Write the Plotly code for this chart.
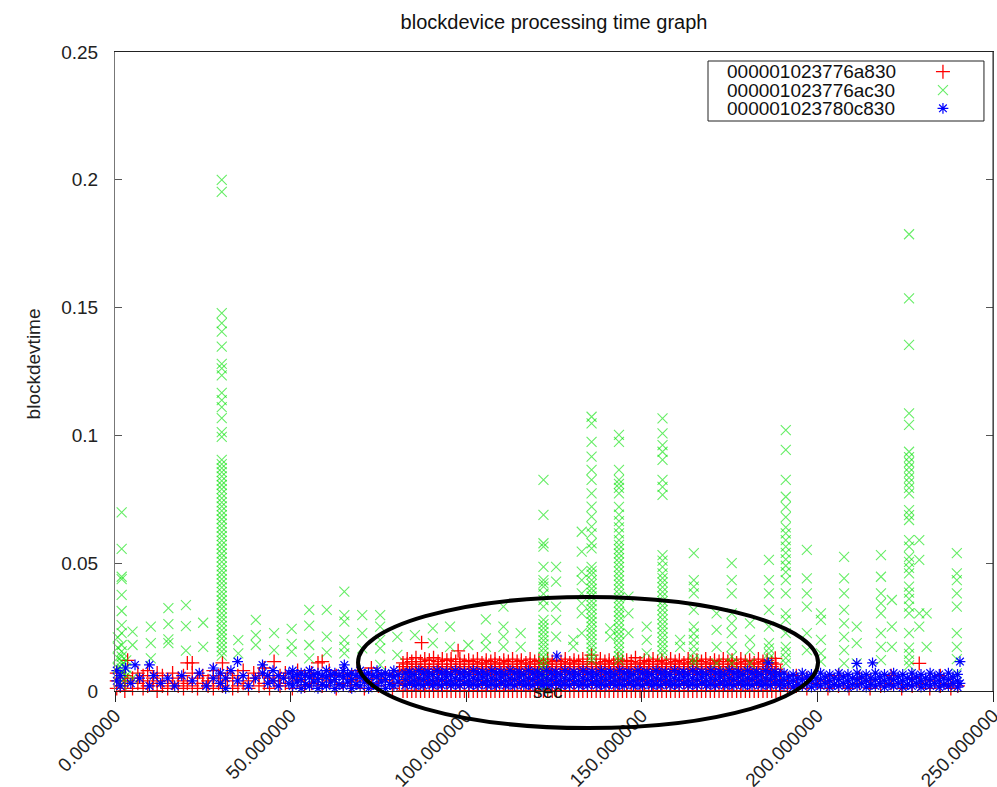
import plotly.graph_objects as go

# ---------------------------------------------------------------
# blockdevice processing time samples, one list per device.
# Each entry: (sec, [blockdevtime values logged at that second])
# ---------------------------------------------------------------
SERIES_NAMES = ["000001023776a830", "000001023776ac30", "000001023780c830"]

X_TICKS = [0, 50, 100, 150, 200, 250]
Y_TICKS = [0, 0.05, 0.1, 0.15, 0.2, 0.25]

dev_a830 = [
    (0.5, [0.001, 0.004, 0.007]), (1.5, [0.002, 0.005]), (2.8, [0.0, 0.003, 0.006]),
    (3.6, [0.012, 0.004]), (5.0, [0.001, 0.005]), (6.5, [0.003, 0.007]),
    (8.0, [0.001, 0.004, 0.006]), (9.3, [0.002, 0.008]), (10.8, [0.003, 0.005]),
    (12.0, [0.0, 0.004, 0.007]), (13.5, [0.002, 0.006]), (15.0, [0.001, 0.004]),
    (16.4, [0.003, 0.007]), (18.0, [0.002, 0.005]), (19.5, [0.001, 0.004, 0.006]),
    (20.6, [0.011, 0.003]), (22.0, [0.002, 0.007, 0.011]), (23.5, [0.001, 0.005]),
    (25.0, [0.003, 0.006]), (26.5, [0.002, 0.004]), (28.0, [0.001, 0.005, 0.008]),
    (29.5, [0.003, 0.006]), (30.6, [0.011, 0.002]), (32.0, [0.004, 0.007]),
    (33.5, [0.001, 0.005]), (35.0, [0.002, 0.006]), (36.5, [0.003, 0.008]),
    (38.0, [0.001, 0.004]), (39.5, [0.005, 0.007]), (41.0, [0.002, 0.006]),
    (42.5, [0.003, 0.009]), (44.0, [0.001, 0.005]), (45.3, [0.0115, 0.004]),
    (47.0, [0.002, 0.006]), (48.5, [0.003, 0.007]), (50.5, [0.001, 0.005]),
    (52.0, [0.004, 0.008]), (54.0, [0.002, 0.006]), (56.0, [0.003, 0.007]),
    (57.8, [0.011, 0.005]), (59.0, [0.0115, 0.002]), (61.0, [0.004, 0.008]),
    (63.0, [0.001, 0.006]), (65.0, [0.003, 0.007]), (67.0, [0.002, 0.005]),
    (69.0, [0.004, 0.008]), (71.0, [0.001, 0.006]), (73.0, [0.003, 0.009]),
    (75.0, [0.002, 0.005]), (77.0, [0.004, 0.007]), (79.0, [0.001, 0.006]),
    (81.0, [0.003, 0.008]),
    (82.0, [0.0, 0.004, 0.0075, 0.0095, 0.011]), (83.2, [0.0, 0.0025, 0.0065, 0.0085, 0.0105, 0.0125]),
    (84.5, [0.0, 0.004, 0.0075, 0.0095, 0.0115]), (85.7, [0.0, 0.0025, 0.0065, 0.0085, 0.0105, 0.013]),
    (87.0, [0.0, 0.004, 0.0075, 0.0095, 0.0115]), (87.3, [0.0189]),
    (88.2, [0.0, 0.0025, 0.0065, 0.0085, 0.0105, 0.0125]), (89.5, [0.0, 0.004, 0.0075, 0.0095, 0.012]),
    (90.7, [0.0, 0.0025, 0.0065, 0.0085, 0.0105, 0.013]), (92.0, [0.0, 0.004, 0.0075, 0.0095, 0.0115]),
    (93.2, [0.0, 0.0025, 0.0065, 0.0085, 0.0105, 0.0125]), (94.5, [0.0, 0.004, 0.0075, 0.0095, 0.012]),
    (95.7, [0.0, 0.0025, 0.0065, 0.0085, 0.0105, 0.0125]), (97.0, [0.0, 0.004, 0.0075, 0.0095, 0.0115]),
    (97.7, [0.0157]),
    (98.2, [0.0, 0.0025, 0.0065, 0.0085, 0.0105, 0.0125]), (99.5, [0.0, 0.004, 0.0075, 0.0095, 0.0115]),
    (100.7, [0.0, 0.0025, 0.0065, 0.0085, 0.0105, 0.012]), (102.0, [0.0, 0.004, 0.0075, 0.0095, 0.0115]),
    (103.2, [0.0, 0.0025, 0.0065, 0.0085, 0.0105, 0.0125]), (104.5, [0.0, 0.004, 0.0075, 0.0095, 0.011]),
    (105.7, [0.0, 0.0025, 0.0065, 0.0085, 0.0105, 0.012]), (107.0, [0.0, 0.004, 0.0075, 0.0095, 0.0115]),
    (108.2, [0.0, 0.0025, 0.0065, 0.0085, 0.0105, 0.0125]), (109.5, [0.0, 0.004, 0.0075, 0.0095, 0.011]),
    (110.7, [0.0, 0.0025, 0.0065, 0.0085, 0.0105, 0.012]), (112.0, [0.0, 0.004, 0.0075, 0.0095, 0.0115]),
    (113.2, [0.0, 0.0025, 0.0065, 0.0085, 0.0105, 0.0125]), (114.5, [0.0, 0.004, 0.0075, 0.0095, 0.0115]),
    (115.7, [0.0, 0.0025, 0.0065, 0.0085, 0.0105, 0.012]), (117.0, [0.0, 0.004, 0.0075, 0.0095, 0.011]),
    (118.2, [0.0, 0.0025, 0.0065, 0.0085, 0.0105, 0.0125]), (119.5, [0.0, 0.004, 0.0075, 0.0095, 0.0115]),
    (120.7, [0.0, 0.0025, 0.0065, 0.0085, 0.0105, 0.012]), (122.0, [0.0, 0.004, 0.0075, 0.0095, 0.011]),
    (123.2, [0.0, 0.0025, 0.0065, 0.0085, 0.0105, 0.0125]), (124.5, [0.0, 0.004, 0.0075, 0.0095, 0.0115]),
    (125.7, [0.0, 0.0025, 0.0065, 0.0085, 0.0105, 0.012]), (127.0, [0.0, 0.004, 0.0075, 0.0095, 0.0115]),
    (128.2, [0.0, 0.0025, 0.0065, 0.0085, 0.0105, 0.0125]), (129.5, [0.0, 0.004, 0.0075, 0.0095, 0.011]),
    (130.7, [0.0, 0.0025, 0.0065, 0.0085, 0.0105, 0.012]), (132.0, [0.0, 0.004, 0.0075, 0.0095, 0.0115]),
    (133.2, [0.0, 0.0025, 0.0065, 0.0085, 0.0105, 0.0125]), (134.5, [0.0, 0.004, 0.0075, 0.0095, 0.0115]),
    (135.7, [0.0, 0.0025, 0.0065, 0.0085, 0.0105, 0.014]), (137.0, [0.0, 0.004, 0.0075, 0.0095, 0.011]),
    (138.2, [0.0, 0.0025, 0.0065, 0.0085, 0.0105, 0.0125]), (139.5, [0.0, 0.004, 0.0075, 0.0095, 0.0115]),
    (140.7, [0.0, 0.0025, 0.0065, 0.0085, 0.0105, 0.012]), (142.0, [0.0, 0.004, 0.0075, 0.0095, 0.011]),
    (143.2, [0.0, 0.0025, 0.0065, 0.0085, 0.0105, 0.0125]), (144.5, [0.0, 0.004, 0.0075, 0.0095, 0.0115]),
    (145.7, [0.0, 0.0025, 0.0065, 0.0085, 0.0105, 0.012]), (147.0, [0.0, 0.004, 0.0075, 0.0095, 0.0115]),
    (148.2, [0.0, 0.0025, 0.0065, 0.0085, 0.0105, 0.013]), (149.5, [0.0, 0.004, 0.0075, 0.0095, 0.011]),
    (150.7, [0.0, 0.0025, 0.0065, 0.0085, 0.0105, 0.012]), (152.0, [0.0, 0.004, 0.0075, 0.0095, 0.0115]),
    (153.2, [0.0, 0.0025, 0.0065, 0.0085, 0.0105, 0.0125]), (154.5, [0.0, 0.004, 0.0075, 0.0095, 0.0115]),
    (155.7, [0.0, 0.0025, 0.0065, 0.0085, 0.0105, 0.012]), (157.0, [0.0, 0.004, 0.0075, 0.0095, 0.011]),
    (158.2, [0.0, 0.0025, 0.0065, 0.0085, 0.0105, 0.0125]), (159.5, [0.0, 0.004, 0.0075, 0.0095, 0.0115]),
    (160.7, [0.0, 0.0025, 0.0065, 0.0085, 0.0105, 0.012]), (162.0, [0.0, 0.004, 0.0075, 0.0095, 0.011]),
    (163.2, [0.0, 0.0025, 0.0065, 0.0085, 0.0105, 0.0125]), (164.5, [0.0, 0.004, 0.0075, 0.0095, 0.0115]),
    (165.7, [0.0, 0.0025, 0.0065, 0.0085, 0.0105, 0.012]), (167.0, [0.0, 0.004, 0.0075, 0.0095, 0.0115]),
    (168.2, [0.0, 0.0025, 0.0065, 0.0085, 0.0105, 0.0125]), (169.5, [0.0, 0.004, 0.0075, 0.0095, 0.011]),
    (170.7, [0.0, 0.0025, 0.0065, 0.0085, 0.0105, 0.012]), (172.0, [0.0, 0.004, 0.0075, 0.0095, 0.0115]),
    (173.2, [0.0, 0.0025, 0.0065, 0.0085, 0.0105, 0.0125]), (174.5, [0.0, 0.004, 0.0075, 0.0095, 0.0115]),
    (175.7, [0.0, 0.0025, 0.0065, 0.0085, 0.0105, 0.012]), (177.0, [0.0, 0.004, 0.0075, 0.0095, 0.011]),
    (178.2, [0.0, 0.0025, 0.0065, 0.0085, 0.0105, 0.0125]), (179.5, [0.0, 0.004, 0.0075, 0.0095, 0.0115]),
    (180.7, [0.0, 0.0025, 0.0065, 0.0085, 0.0105, 0.012]), (182.0, [0.0, 0.004, 0.0075, 0.0095, 0.011]),
    (183.2, [0.0, 0.0025, 0.0065, 0.0085, 0.0105, 0.0125]), (184.5, [0.0, 0.004, 0.0075, 0.0095, 0.0115]),
    (185.7, [0.0, 0.0025, 0.0065, 0.0085, 0.0105, 0.012]), (187.0, [0.0, 0.004, 0.0075, 0.0095, 0.011]),
    (188.0, [0.0128]), (188.2, [0.0, 0.0025, 0.0065, 0.0085, 0.0105]), (189.5, [0.0, 0.004, 0.0075]),
    (191.5, [0.001, 0.004]), (194.0, [0.002, 0.006]), (197.0, [0.001, 0.005]),
    (200.0, [0.003]), (203.0, [0.001, 0.004]), (206.0, [0.002, 0.006]),
    (209.0, [0.001]), (212.0, [0.003, 0.005]), (215.0, [0.001, 0.004]),
    (218.0, [0.002]), (221.0, [0.003, 0.006]), (224.0, [0.001]),
    (227.0, [0.002, 0.005]), (229.0, [0.0108, 0.003]), (232.0, [0.001, 0.004]),
    (235.0, [0.002, 0.006]), (238.0, [0.001, 0.003]), (240.0, [0.002]),
]

dev_ac30 = [
    (0.8, [0.021, 0.017, 0.013, 0.009]),
    (1.9, [0.0699, 0.0556, 0.0447, 0.0438, 0.0376, 0.0313, 0.0258, 0.0226, 0.018,
           0.0155, 0.0135, 0.0118, 0.0102, 0.0088, 0.0072, 0.0055, 0.004, 0.0025]),
    (3.2, [0.012, 0.009, 0.006]),
    (5.0, [0.0232, 0.018, 0.005]),
    (10.2, [0.0252, 0.0187, 0.0128]),
    (15.2, [0.0324, 0.0262, 0.0202, 0.0187]),
    (20.2, [0.0336, 0.0254, 0.0158]),
    (25.1, [0.0267, 0.0173]),
    (30.4, [0.2, 0.1953, 0.1478, 0.1439, 0.1406, 0.1347, 0.128, 0.1262, 0.1235, 0.1166,
            0.1138, 0.1111, 0.1068, 0.1013, 0.0994, 0.0904, 0.0888, 0.0872, 0.0856, 0.084,
            0.0822, 0.0806, 0.079, 0.0772, 0.0755, 0.0738, 0.0722, 0.0705, 0.0688, 0.0672,
            0.0655, 0.0638, 0.0622, 0.0606, 0.0588, 0.0572, 0.0556, 0.0538, 0.0522, 0.0505,
            0.0488, 0.0471, 0.0455, 0.0438, 0.0422, 0.0405, 0.0388, 0.0372, 0.0355, 0.0338,
            0.0322, 0.0305, 0.0288, 0.0272, 0.0255, 0.0238, 0.0222, 0.0205, 0.0188, 0.0172,
            0.0155, 0.0138]),
    (35.1, [0.0199, 0.0147]),
    (40.1, [0.0278, 0.0219, 0.018]),
    (45.3, [0.0226, 0.016]),
    (50.3, [0.0243, 0.0184, 0.0154]),
    (55.3, [0.0317, 0.0256, 0.018, 0.0128]),
    (60.3, [0.0317, 0.0213, 0.0151]),
    (65.3, [0.0389, 0.0297, 0.0271, 0.02, 0.0173, 0.0147]),
    (70.4, [0.0297, 0.0226, 0.0167]),
    (75.5, [0.0297, 0.0252, 0.02, 0.0167, 0.0102]),
    (80.4, [0.0212, 0.0141]),
    (85.4, [0.0219]),
    (90.5, [0.0245, 0.0187]),
    (95.4, [0.0252, 0.0173]),
    (100.6, [0.018]),
    (105.6, [0.028, 0.0206, 0.0173]),
    (110.6, [0.033, 0.0252, 0.0213, 0.0173]),
    (115.5, [0.0226, 0.0173]),
    (122.0, [0.0826, 0.0689, 0.0578, 0.0565, 0.0486, 0.0434, 0.0421, 0.0408, 0.038,
             0.0356, 0.033, 0.0278, 0.0262, 0.0246, 0.023, 0.0214, 0.0198, 0.0182, 0.0166,
             0.015, 0.0134, 0.0118, 0.0102, 0.0086, 0.007, 0.0054, 0.0038, 0.0022, 0.0006]),
    (125.6, [0.0486, 0.0428, 0.033, 0.0278, 0.0213]),
    (130.5, [0.02, 0.0173]),
    (132.9, [0.0623, 0.0545, 0.0467, 0.0434, 0.0382, 0.0343, 0.0304, 0.0226]),
    (135.7, [0.1073, 0.1047, 0.0975, 0.0917, 0.0865, 0.0826, 0.0773, 0.0721, 0.0682,
             0.0643, 0.0617, 0.0578, 0.0558, 0.0486, 0.047, 0.0455, 0.0434, 0.0418, 0.04,
             0.0385, 0.037, 0.0352, 0.0335, 0.032, 0.0302, 0.0285, 0.027, 0.0252, 0.0235,
             0.022, 0.0202, 0.0185, 0.017, 0.0152, 0.0135, 0.012]),
    (141.0, [0.0245, 0.0213]),
    (143.5, [0.1002, 0.0975, 0.0865, 0.0826, 0.081, 0.0795, 0.0773, 0.072, 0.069, 0.0665,
             0.064, 0.0617, 0.059, 0.0572, 0.0555, 0.0538, 0.052, 0.0503, 0.0486, 0.0468,
             0.045, 0.0433, 0.0416, 0.0398, 0.038, 0.0363, 0.0346, 0.0328, 0.031, 0.0293,
             0.0276, 0.0258, 0.024, 0.0223, 0.0206, 0.0188, 0.017, 0.0153, 0.0136, 0.012]),
    (146.2, [0.0369, 0.0304, 0.0226]),
    (151.4, [0.0252, 0.02, 0.0147]),
    (155.9, [0.1067, 0.1008, 0.0962, 0.0936, 0.0904, 0.0826, 0.0799, 0.0767, 0.0532, 0.051,
             0.0486, 0.046, 0.0442, 0.0425, 0.0406, 0.0388, 0.037, 0.0352, 0.0334, 0.0316,
             0.0298, 0.028, 0.0262, 0.0245, 0.0228, 0.021, 0.0192, 0.0175, 0.0158, 0.014]),
    (160.9, [0.02, 0.0173]),
    (164.8, [0.0539, 0.0434, 0.0408, 0.0382, 0.0317, 0.0252, 0.0225, 0.02, 0.0175, 0.015,
             0.0125, 0.011]),
    (171.3, [0.0304, 0.0239, 0.0173, 0.0108]),
    (175.6, [0.05, 0.0434, 0.0382, 0.0304, 0.0265, 0.0226, 0.0173, 0.0135, 0.0108]),
    (180.8, [0.0265, 0.02, 0.016, 0.0108]),
    (186.2, [0.0513, 0.0434, 0.0382, 0.0317, 0.0252, 0.0187, 0.0167, 0.0147, 0.0128]),
    (191.0, [0.1021, 0.0943, 0.0826, 0.076, 0.072, 0.068, 0.064, 0.0617, 0.059, 0.0565,
             0.054, 0.0515, 0.049, 0.0465, 0.0434, 0.0382, 0.0304, 0.0278, 0.0226, 0.0173,
             0.0152, 0.013, 0.0108]),
    (197.0, [0.0552, 0.0441, 0.0382, 0.033, 0.0226, 0.016]),
    (201.0, [0.0304, 0.0278, 0.02, 0.0147, 0.0115]),
    (207.6, [0.0525, 0.0441, 0.0382, 0.0317, 0.0265, 0.0212, 0.016, 0.0108]),
    (211.2, [0.0252, 0.0187, 0.0108]),
    (218.1, [0.0532, 0.0447, 0.0382, 0.0343, 0.0304, 0.0226, 0.0173, 0.0121]),
    (221.2, [0.0356, 0.0252, 0.0173]),
    (226.1, [0.1787, 0.1536, 0.1354, 0.1086, 0.1041, 0.0936, 0.0915, 0.0895, 0.0875,
             0.0855, 0.0835, 0.0815, 0.0795, 0.0773, 0.0708, 0.0688, 0.0669, 0.059, 0.0565,
             0.0525, 0.0505, 0.0482, 0.046, 0.0408, 0.0385, 0.036, 0.033, 0.0304, 0.0226,
             0.017, 0.0145, 0.012, 0.01]),
    (229.0, [0.059, 0.0513, 0.0304, 0.0252]),
    (231.1, [0.0304, 0.0173]),
    (239.7, [0.0539, 0.046, 0.0434, 0.0382, 0.033, 0.0226, 0.0173, 0.0125, 0.0069]),
]

dev_c830 = [
    (0.5, [0.004, 0.008]), (1.5, [0.002, 0.006]), (3.0, [0.009]), (4.5, [0.003]),
    (5.7, [0.0102]), (7.0, [0.005]), (9.8, [0.0102, 0.002]), (11.0, [0.006]),
    (13.0, [0.003]), (15.0, [0.005]), (17.0, [0.002]), (19.0, [0.006]),
    (22.0, [0.004]), (24.0, [0.007]), (26.0, [0.002]), (28.0, [0.005, 0.009]),
    (30.0, [0.003, 0.007]), (31.5, [0.001, 0.005]), (33.0, [0.008]),
    (34.9, [0.0115, 0.004]), (36.5, [0.006]), (38.0, [0.002]), (40.0, [0.005]),
    (42.0, [0.0102, 0.007]), (43.5, [0.003, 0.006]), (45.0, [0.004, 0.008]),
    (46.5, [0.002, 0.006]), (48.0, [0.005]), (49.5, [0.003, 0.007]),
    (50.6, [0.002, 0.0055, 0.008]), (51.8, [0.0035, 0.0065]), (53.0, [0.001, 0.0045, 0.007]),
    (54.2, [0.0025, 0.006]), (55.4, [0.002, 0.0055, 0.008]), (56.6, [0.0035, 0.0065]),
    (57.8, [0.001, 0.0045, 0.007]), (59.0, [0.0025, 0.006]), (60.2, [0.002, 0.0055, 0.008]),
    (61.4, [0.0035, 0.0065]), (62.6, [0.001, 0.0045, 0.007]), (63.8, [0.0025, 0.006]),
    (65.0, [0.002, 0.0055, 0.008]), (65.3, [0.0102]), (66.2, [0.0035, 0.0065]),
    (67.4, [0.001, 0.0045, 0.007]), (68.6, [0.0025, 0.006]), (69.8, [0.002, 0.0055, 0.008]),
    (71.0, [0.0035, 0.0065]), (72.2, [0.001, 0.0045, 0.007]), (73.4, [0.0025, 0.006]),
    (74.6, [0.002, 0.0055, 0.008]), (75.8, [0.0035, 0.0065]), (77.0, [0.001, 0.0045, 0.007]),
    (78.2, [0.0025, 0.006]), (79.4, [0.002, 0.0055, 0.008]), (80.6, [0.0035, 0.0065]),
    (82.6, [0.0022, 0.0045, 0.007]), (83.9, [0.003, 0.0055, 0.0075]),
    (85.2, [0.0022, 0.004, 0.0065]), (86.5, [0.0025, 0.005, 0.008]),
    (87.8, [0.0022, 0.0045, 0.007]), (89.1, [0.003, 0.0055, 0.0075]),
    (90.4, [0.0022, 0.004, 0.0065]), (91.7, [0.0025, 0.005, 0.008]),
    (93.0, [0.0022, 0.0045, 0.007]), (94.3, [0.003, 0.0055, 0.0075]),
    (95.6, [0.0022, 0.004, 0.0065]), (96.9, [0.0025, 0.005, 0.008]),
    (98.2, [0.0022, 0.0045, 0.007]), (99.5, [0.003, 0.0055, 0.0075]),
    (100.8, [0.0022, 0.004, 0.0065]), (102.1, [0.0025, 0.005, 0.008]),
    (103.4, [0.0022, 0.0045, 0.007]), (104.7, [0.003, 0.0055, 0.0075]),
    (106.0, [0.0022, 0.004, 0.0065]), (107.3, [0.0025, 0.005, 0.008]),
    (108.6, [0.0022, 0.0045, 0.007]), (109.9, [0.003, 0.0055, 0.0075]),
    (111.2, [0.0022, 0.004, 0.0065]), (112.5, [0.0025, 0.005, 0.008]),
    (113.8, [0.0022, 0.0045, 0.007]), (115.1, [0.003, 0.0055, 0.0075]),
    (116.4, [0.0022, 0.004, 0.0065]), (117.7, [0.0025, 0.005, 0.008]),
    (119.0, [0.0022, 0.0045, 0.007]), (120.3, [0.003, 0.0055, 0.0075]),
    (121.6, [0.0022, 0.004, 0.0065]), (122.9, [0.0025, 0.005, 0.008]),
    (124.2, [0.0022, 0.0045, 0.007]), (125.5, [0.003, 0.0055, 0.0075]),
    (125.8, [0.0137]),
    (126.8, [0.0022, 0.004, 0.0065]), (128.1, [0.0025, 0.005, 0.008]),
    (129.4, [0.0022, 0.0045, 0.007]), (130.7, [0.003, 0.0055, 0.0075]),
    (132.0, [0.0022, 0.004, 0.0065]), (133.3, [0.0025, 0.005, 0.008]),
    (134.6, [0.0022, 0.0045, 0.007]), (135.9, [0.003, 0.0055, 0.0075]),
    (137.2, [0.0022, 0.004, 0.0065]), (138.5, [0.0025, 0.005, 0.008]),
    (139.8, [0.0022, 0.0045, 0.007]), (141.1, [0.003, 0.0055, 0.0075]),
    (142.4, [0.0022, 0.004, 0.0065]), (143.7, [0.0025, 0.005, 0.008]),
    (145.0, [0.0022, 0.0045, 0.007]), (146.3, [0.003, 0.0055, 0.0075]),
    (147.6, [0.0022, 0.004, 0.0065]), (148.9, [0.0025, 0.005, 0.008]),
    (150.2, [0.0022, 0.0045, 0.007]), (151.5, [0.003, 0.0055, 0.0075]),
    (152.8, [0.0022, 0.004, 0.0065]), (154.1, [0.0025, 0.005, 0.008]),
    (155.4, [0.0022, 0.0045, 0.007]), (156.7, [0.003, 0.0055, 0.0075]),
    (158.0, [0.0022, 0.004, 0.0065]), (159.3, [0.0025, 0.005, 0.008]),
    (160.6, [0.0022, 0.0045, 0.007]), (161.9, [0.003, 0.0055, 0.0075]),
    (163.2, [0.0022, 0.004, 0.0065]), (164.5, [0.0025, 0.005, 0.008]),
    (165.8, [0.0022, 0.0045, 0.007]), (167.1, [0.003, 0.0055, 0.0075]),
    (168.4, [0.0022, 0.004, 0.0065]), (169.7, [0.0025, 0.005, 0.008]),
    (171.0, [0.0022, 0.0045, 0.007]), (172.3, [0.003, 0.0055, 0.0075]),
    (173.6, [0.0022, 0.004, 0.0065]), (174.9, [0.0025, 0.005, 0.008]),
    (176.2, [0.0022, 0.0045, 0.007]), (177.5, [0.003, 0.0055, 0.0075]),
    (178.8, [0.0022, 0.004, 0.0065]), (180.1, [0.0025, 0.005, 0.008]),
    (181.4, [0.0022, 0.0045, 0.007]), (182.7, [0.003, 0.0055, 0.0075]),
    (184.0, [0.0022, 0.004, 0.0065]), (185.3, [0.0025, 0.005, 0.008]),
    (186.0, [0.011]),
    (186.6, [0.0022, 0.0045, 0.007]), (187.9, [0.003, 0.0055, 0.0075]),
    (189.2, [0.0022, 0.004, 0.0065]),
    (190.5, [0.002, 0.0045, 0.007]), (191.8, [0.003, 0.0055]), (193.1, [0.0015, 0.004, 0.0065]),
    (194.4, [0.0025, 0.005]), (195.7, [0.002, 0.0045, 0.007]), (197.0, [0.003, 0.0055]),
    (198.3, [0.0015, 0.004, 0.0065]), (199.6, [0.0025, 0.005]), (200.9, [0.002, 0.0045, 0.007]),
    (202.2, [0.003, 0.0055]), (203.5, [0.0015, 0.004, 0.0065]), (204.8, [0.0025, 0.005]),
    (206.1, [0.002, 0.0045, 0.007]), (207.4, [0.003, 0.0055]), (208.7, [0.0015, 0.004, 0.0065]),
    (210.0, [0.0025, 0.005]), (211.2, [0.0108]), (211.3, [0.002, 0.0045, 0.007]),
    (212.6, [0.003, 0.0055]), (213.9, [0.0015, 0.004, 0.0065]), (215.2, [0.0025, 0.005]),
    (215.7, [0.011]), (216.5, [0.002, 0.0045, 0.007]), (217.8, [0.003, 0.0055]),
    (219.1, [0.0015, 0.004, 0.0065]), (220.4, [0.0025, 0.005]), (221.7, [0.002, 0.0045, 0.007]),
    (223.0, [0.003, 0.0055]), (224.3, [0.0015, 0.004, 0.0065]), (225.6, [0.0025, 0.005]),
    (226.9, [0.002, 0.0045, 0.007]), (228.2, [0.003, 0.0055]), (229.5, [0.0015, 0.004, 0.0065]),
    (230.8, [0.0025, 0.005]), (232.1, [0.002, 0.0045, 0.007]), (233.4, [0.003, 0.0055]),
    (234.7, [0.0015, 0.004, 0.0065]), (236.0, [0.0025, 0.005]), (237.3, [0.002, 0.0045, 0.007]),
    (238.6, [0.003, 0.0055]), (239.9, [0.0015, 0.004, 0.0065]), (240.6, [0.0115, 0.003]),
]


def expand(columns):
    xs, ys = [], []
    for sec, values in columns:
        for v in values:
            xs.append(sec)
            ys.append(v)
    return xs, ys


FONT = "Liberation Sans, Arial, sans-serif"
# open symbols take their stroke colour from marker.color
STYLES = [
    dict(symbol="cross-thin-open", size=10, color="#ff0000", line=dict(width=1.3)),
    dict(symbol="x-thin-open", size=10, color="rgba(0,225,0,0.6)", line=dict(width=1.1)),
    dict(symbol="asterisk-open", size=9, color="#0000ff", line=dict(width=1.2)),
]

fig = go.Figure()
for name, cols, style in zip(SERIES_NAMES, [dev_a830, dev_ac30, dev_c830], STYLES):
    xs, ys = expand(cols)
    fig.add_trace(go.Scatter(x=xs, y=ys, mode="markers", name=name, marker=style,
                             cliponaxis=False, showlegend=False, hoverinfo="skip"))

# gnuplot-style key: label on the left, sample symbol on the right
KEY_ROWS = [0.9692, 0.9405, 0.9119]
for name, style, ky in zip(SERIES_NAMES, STYLES, KEY_ROWS):
    fig.add_trace(go.Scatter(x=[0.943], y=[ky], mode="markers", marker=style,
                             xaxis="x2", yaxis="y2", cliponaxis=False,
                             showlegend=False, hoverinfo="skip"))
    fig.add_annotation(x=0.6948, y=ky, xref="paper", yref="paper", text=name,
                       showarrow=False, xanchor="left", yanchor="middle",
                       font=dict(family=FONT, size=19, color="#111"))
fig.add_shape(type="rect", xref="paper", yref="paper", x0=0.6754, x1=0.9897,
              y0=0.892, y1=0.9859, line=dict(color="#222", width=1))

# highlighted region
fig.add_shape(type="circle", xref="paper", yref="paper", x0=0.2768, x1=0.8007,
              y0=-0.0579, y1=0.1471, line=dict(color="black", width=4), layer="above")

# right-hand frame edge
fig.add_shape(type="line", xref="paper", yref="paper", x0=1, x1=1, y0=0, y1=1,
              line=dict(color="#222", width=1))

fig.add_annotation(x=0.493, y=-0.0203, xref="paper", yref="paper", text="sec",
                   showarrow=False, font=dict(family=FONT, size=19, color="#111"))
fig.add_annotation(x=-0.107, y=0.512, xref="paper", yref="paper", text="blockdevtime",
                   textangle=-90, showarrow=False, font=dict(family=FONT, size=19, color="#222"))

fig.update_layout(
    width=997, height=787,
    margin=dict(l=115, r=4, t=52, b=96),
    paper_bgcolor="white", plot_bgcolor="white",
    title=dict(text="blockdevice processing time graph", x=0.5, xref="paper",
               y=1 - 22 / 787, yanchor="middle",
               font=dict(family=FONT, size=20, color="#111")),
    xaxis=dict(range=[0, 250], tickvals=X_TICKS, tickformat=".6f", tickangle=-45,
               ticks="outside", ticklen=10, tickcolor="#222", showgrid=False, zeroline=False,
               showline=True, linecolor="#222", mirror=True, automargin=False,
               ticklabelstandoff=-5, ticklabeloverflow="allow",
               tickfont=dict(family=FONT, size=19, color="#222")),
    yaxis=dict(range=[0, 0.25], tickvals=Y_TICKS, ticks="inside", ticklen=7,
               tickcolor="#555", showgrid=False, zeroline=False, showline=True,
               linecolor="#777", mirror="ticks", automargin=False, ticklabelstandoff=12,
               ticklabeloverflow="allow",
               tickfont=dict(family=FONT, size=19, color="#222")),
    xaxis2=dict(overlaying="x", range=[0, 1], visible=False),
    yaxis2=dict(overlaying="y", range=[0, 1], visible=False),
)

fig.write_html("out.html")
